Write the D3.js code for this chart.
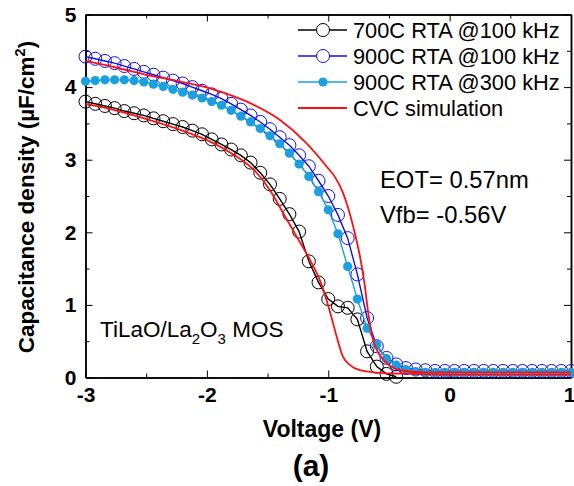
<!DOCTYPE html>
<html>
<head>
<meta charset="utf-8">
<script src="https://cdn.jsdelivr.net/npm/d3@7"></script>
<style>
  body { margin: 0; background: #fff; }
  svg { display: block; font-family: "Liberation Sans", Arial, sans-serif; }
  .tick text { font-weight: bold; font-size: 21px; fill: #000; }
</style>
</head>
<body>
<svg id="chart" width="574" height="486"></svg>
<script>
// measured points, shared voltage grid (V)
const volts = [-3, -2.92, -2.84, -2.76, -2.68, -2.6, -2.52, -2.44, -2.36, -2.28, -2.2, -2.12, -2.04,
  -1.96, -1.88, -1.8, -1.72, -1.64, -1.56, -1.48, -1.4, -1.32, -1.24, -1.16, -1.08, -1,
  -0.92, -0.84, -0.76, -0.68, -0.6, -0.52, -0.44, -0.36, -0.28, -0.2, -0.12, -0.04,
  0.04, 0.12, 0.2, 0.28, 0.36, 0.44, 0.52, 0.6, 0.68, 0.76, 0.84, 0.92, 1];

// 700C RTA @100 kHz (stops at -0.44 V)
const cap700 = [3.80, 3.77, 3.74, 3.71, 3.67, 3.64, 3.61, 3.57, 3.53, 3.49, 3.45, 3.40, 3.35,
  3.28, 3.21, 3.14, 3.06, 2.96, 2.82, 2.66, 2.46, 2.25, 2.01, 1.60, 1.31, 1.08,
  0.98, 0.96, 0.80, 0.36, 0.15, 0.05, 0.01];

// 900C RTA @100 kHz
const cap900a = [4.42, 4.39, 4.36, 4.33, 4.29, 4.25, 4.21, 4.17, 4.13, 4.09, 4.05, 4.00, 3.95,
  3.90, 3.84, 3.77, 3.69, 3.61, 3.52, 3.42, 3.31, 3.20, 3.06, 2.91, 2.71, 2.50,
  2.24, 1.92, 1.42, 0.82, 0.43, 0.27, 0.18, 0.13, 0.11, 0.10, 0.09, 0.09,
  0.09, 0.09, 0.09, 0.09, 0.09, 0.09, 0.09, 0.09, 0.09, 0.09, 0.09, 0.09, 0.09];

// 900C RTA @300 kHz
const cap900b = [4.08, 4.09, 4.10, 4.10, 4.10, 4.09, 4.07, 4.04, 4.01, 3.97, 3.93, 3.89, 3.85,
  3.80, 3.75, 3.68, 3.60, 3.52, 3.43, 3.33, 3.22, 3.09, 2.94, 2.77, 2.56, 2.31,
  1.98, 1.53, 1.08, 0.68, 0.45, 0.26, 0.17, 0.11, 0.08, 0.07, 0.07, 0.07,
  0.07, 0.07, 0.07, 0.07, 0.07, 0.07, 0.07, 0.07, 0.07, 0.07, 0.07, 0.07, 0.07];

// CVC simulation curves
const simV1 = [-3, -2.8, -2.5, -2.2, -2.0, -1.8, -1.59, -1.48, -1.37, -1.26, -1.15, -1.06, -0.99, -0.93, -0.88, -0.82, -0.74, -0.55, -0.3, 0, 1];
const simC1 = [3.77, 3.70, 3.56, 3.40, 3.27, 3.09, 2.82, 2.58, 2.26, 1.94, 1.62, 1.30, 0.93, 0.56, 0.29, 0.17, 0.10, 0.06, 0.05, 0.04, 0.04];
const simV2 = [-3, -2.75, -2.5, -2.2, -1.95, -1.67, -1.4, -1.18, -1.01, -0.94, -0.88, -0.83, -0.78, -0.74, -0.7, -0.67, -0.64, -0.6, -0.52, -0.41, -0.2, 1];
const simC2 = [4.36, 4.27, 4.17, 4.07, 3.97, 3.80, 3.55, 3.23, 2.90, 2.75, 2.55, 2.30, 1.98, 1.68, 1.28, 0.88, 0.58, 0.38, 0.20, 0.10, 0.07, 0.07];

const legendLabels = ["700C RTA @100 kHz", "900C RTA @100 kHz", "900C RTA @300 kHz", "CVC simulation"];
const xTicks = [-3, -2, -1, 0, 1];
const yTicks = [0, 1, 2, 3, 4, 5];

const BLUE = "#1010e8", CYAN = "#1a9fe0", RED = "#ff1010";

const svg = d3.select("#chart");
const plotL = 85.5, plotR = 571, plotT = 14.5, plotB = 377.5;
const x = d3.scaleLinear().domain([-3, 1]).range([plotL, plotR]);
const y = d3.scaleLinear().domain([0, 5]).range([plotB, plotT]);

const minorX = d3.range(-2.5, 1, 1);
const minorY = d3.range(0.5, 5, 1);

// axes, ticks pointing inward on all four sides
function axisGroup(axis, tx, ty) {
  const g = svg.append("g").attr("transform", `translate(${tx},${ty})`).call(axis);
  g.select(".domain").attr("stroke", "#000").attr("stroke-width", 1.5);
  g.selectAll(".tick line").attr("stroke", "#000").attr("stroke-width", 1);
  return g;
}
axisGroup(d3.axisBottom(x).tickValues(xTicks).tickFormat(d3.format("d")).tickSizeInner(-7).tickSizeOuter(0).tickPadding(10), 0, plotB)
  .selectAll(".tick text")
  .text(d => d < 0 ? "-" + Math.abs(d) : d)
  .attr("dx", d => d === 1 ? -2 : 0);
axisGroup(d3.axisLeft(y).tickValues(yTicks).tickFormat(d3.format("d")).tickSizeInner(-7).tickSizeOuter(0).tickPadding(9), plotL, 0);
axisGroup(d3.axisTop(x).tickValues(xTicks).tickFormat("").tickSizeInner(-7).tickSizeOuter(0), 0, plotT);
axisGroup(d3.axisRight(y).tickValues(yTicks).tickFormat("").tickSizeInner(-7).tickSizeOuter(0), plotR, 0);
// minor ticks
axisGroup(d3.axisBottom(x).tickValues(minorX).tickFormat("").tickSizeInner(-4).tickSizeOuter(0), 0, plotB);
axisGroup(d3.axisTop(x).tickValues(minorX).tickFormat("").tickSizeInner(-4).tickSizeOuter(0), 0, plotT);
axisGroup(d3.axisLeft(y).tickValues(minorY).tickFormat("").tickSizeInner(-4).tickSizeOuter(0), plotL, 0);
axisGroup(d3.axisRight(y).tickValues(minorY).tickFormat("").tickSizeInner(-4).tickSizeOuter(0), plotR, 0);

const line = d3.line().x(d => x(d[0])).y(d => y(d[1]));
const smooth = d3.line().x(d => x(d[0])).y(d => y(d[1])).curve(d3.curveMonotoneX);

function series(vals, color, marker) {
  const pts = vals.map((c, i) => [volts[i], c]);
  svg.append("path").datum(pts).attr("d", line)
    .attr("fill", "none").attr("stroke", color).attr("stroke-width", 1.4);
  svg.append("g").selectAll("circle").data(pts).enter().append("circle")
    .attr("cx", d => x(d[0])).attr("cy", d => y(d[1]))
    .attr("r", marker === "open" ? 6.5 : 4.6)
    .attr("fill", marker === "open" ? "none" : color)
    .attr("stroke", color).attr("stroke-width", marker === "open" ? 1 : 0);
}
series(cap700, "#000", "open");
series(cap900a, BLUE, "open");
series(cap900b, CYAN, "filled");

[[simV1, simC1], [simV2, simC2]].forEach(([vs, cs]) => {
  svg.append("path").datum(vs.map((v, i) => [v, cs[i]])).attr("d", smooth)
    .attr("fill", "none").attr("stroke", RED).attr("stroke-width", 1.8);
});

// legend
const legendStyle = [
  {color: "#000", marker: "open"},
  {color: BLUE, marker: "open"},
  {color: CYAN, marker: "filled"},
  {color: RED, marker: "none"}
];
const leg = svg.append("g").selectAll("g").data(legendLabels).enter().append("g")
  .attr("transform", (d, i) => `translate(0,${30 + i * 26})`);
leg.append("line").attr("x1", 298).attr("x2", 347)
  .attr("stroke", (d, i) => legendStyle[i].color).attr("stroke-width", (d, i) => i === 3 ? 1.8 : 1.4);
leg.filter((d, i) => legendStyle[i].marker !== "none").append("circle")
  .attr("cx", 323).attr("cy", 0)
  .attr("r", (d, i) => legendStyle[i].marker === "open" ? 6.5 : 4.6)
  .attr("fill", (d, i) => legendStyle[i].marker === "open" ? "#fff" : legendStyle[i].color)
  .attr("stroke", (d, i) => legendStyle[i].color)
  .attr("stroke-width", (d, i) => legendStyle[i].marker === "open" ? 1 : 0);
leg.append("text").attr("x", 353).attr("dy", "0.36em")
  .attr("font-size", 21.8).text(d => d);

// annotations
svg.append("text").attr("x", 380).attr("y", 188).attr("font-size", 23.8).text("EOT= 0.57nm");
svg.append("text").attr("x", 380).attr("y", 223).attr("font-size", 23.8).text("Vfb= -0.56V");

const mos = svg.append("text").attr("x", 100).attr("y", 337).attr("font-size", 22.5);
mos.append("tspan").text("TiLaO/La");
mos.append("tspan").attr("font-size", 15).attr("dy", 7).text("2");
mos.append("tspan").attr("dy", -7).text("O");
mos.append("tspan").attr("font-size", 15).attr("dy", 7).text("3");
mos.append("tspan").attr("dy", -7).text(" MOS");

// axis titles
svg.append("text").attr("x", 322).attr("y", 437).attr("text-anchor", "middle")
  .attr("font-size", 23).attr("font-weight", "bold").text("Voltage (V)");
svg.append("text").attr("x", 311).attr("y", 476).attr("text-anchor", "middle")
  .attr("font-size", 30).attr("font-weight", "bold").text("(a)");

const yt = svg.append("text").attr("transform", "translate(34,197) rotate(-90)")
  .attr("text-anchor", "middle").attr("font-size", 22.5).attr("font-weight", "bold");
yt.append("tspan").text("Capacitance density (\u00b5F/cm");
yt.append("tspan").attr("font-size", 14.5).attr("dy", -9).text("2");
yt.append("tspan").attr("dy", 9).text(")");
</script>
</body>
</html>
